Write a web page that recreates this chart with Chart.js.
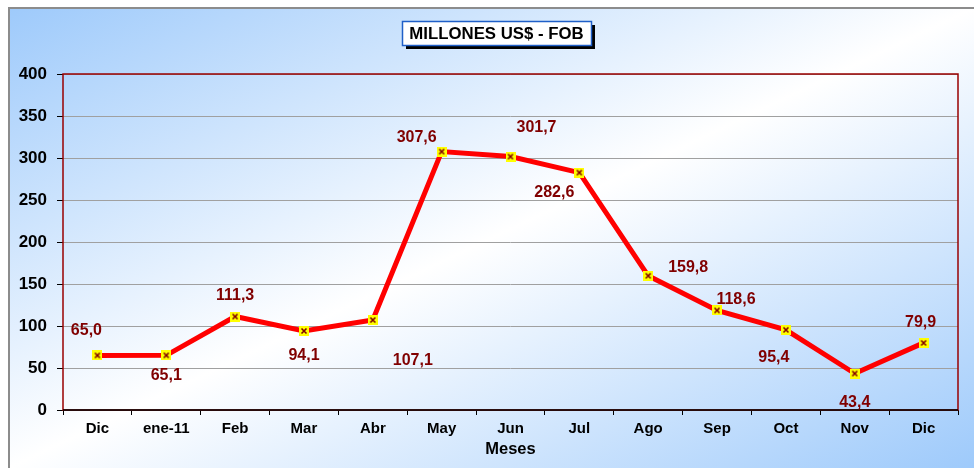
<!DOCTYPE html>
<html>
<head>
<meta charset="utf-8">
<script src="https://cdn.jsdelivr.net/npm/chart.js@4"></script>
<style>
  html, body { margin: 0; padding: 0; background: #fff; }
  #wrap { width: 974px; height: 468px; }
</style>
</head>
<body>
<div id="wrap"><canvas id="chart" width="974" height="468"></canvas></div>
<script>
const months = ['Dic', 'ene-11', 'Feb', 'Mar', 'Abr', 'May', 'Jun', 'Jul', 'Ago', 'Sep', 'Oct', 'Nov', 'Dic'];
const fobValues = [65.0, 65.1, 111.3, 94.1, 107.1, 307.6, 301.7, 282.6, 159.8, 118.6, 95.4, 43.4, 79.9];
const yTicks = [0, 50, 100, 150, 200, 250, 300, 350, 400];
const chartTitle = 'MILLONES US$ - FOB';
const xTitle = 'Meses';

// where each value label sits relative to its point (style only)
const labelOffsets = [[-11, -25], [0, 20], [0, -21], [0, 25], [40, 41], [-25, -14], [26, -29],
  [-25, 20], [40, -8], [19, -11], [-12, 28], [0, 29], [-3, -20]];

const FONT = '"Liberation Sans", Arial, sans-serif';

// yellow square marker with a dark red cross
const marker = document.createElement('canvas');
marker.width = 10; marker.height = 10;
const m = marker.getContext('2d');
m.fillStyle = '#ffff00';
m.fillRect(0, 0, 10, 10);
m.strokeStyle = '#800000';
m.lineWidth = 1.6;
m.beginPath();
m.moveTo(2.5, 2.5); m.lineTo(7.5, 7.5);
m.moveTo(7.5, 2.5); m.lineTo(2.5, 7.5);
m.stroke();

const frame = {
  id: 'frame',
  beforeDraw(chart) {
    const c = chart.ctx;
    const W = chart.width, H = chart.height;
    c.save();
    c.fillStyle = '#ffffff';
    c.fillRect(0, 0, W, H);
    c.translate(9, 8);
    c.scale(W - 9, H - 8);
    const g = c.createLinearGradient(0, 0, 1, 1);
    g.addColorStop(0, '#9ecafb');
    g.addColorStop(0.5, '#ffffff');
    g.addColorStop(1, '#9ecafb');
    c.fillStyle = g;
    c.fillRect(0, 0, 1, 1);
    c.restore();
    c.save();
    c.strokeStyle = '#8c8c8c';
    c.lineWidth = 2;
    c.beginPath();
    c.moveTo(9, H); c.lineTo(9, 8); c.lineTo(W, 8);
    c.stroke();
    c.restore();
  },
  beforeDatasetsDraw(chart) {
    const c = chart.ctx, a = chart.chartArea;
    c.save();
    c.strokeStyle = '#990000';
    c.lineWidth = 1.5;
    c.strokeRect(a.left, a.top, a.right - a.left, a.bottom - a.top);
    c.strokeStyle = '#000000';
    c.beginPath();
    c.moveTo(a.left, a.bottom); c.lineTo(a.right, a.bottom);
    c.stroke();
    c.restore();
  },
  afterDraw(chart) {
    const c = chart.ctx, a = chart.chartArea;
    c.save();
    // value labels
    c.font = 'bold 16px ' + FONT;
    c.fillStyle = '#800000';
    c.textAlign = 'center';
    c.textBaseline = 'middle';
    chart.getDatasetMeta(0).data.forEach((p, i) => {
      const o = labelOffsets[i];
      c.fillText(fobValues[i].toFixed(1).replace('.', ','), p.x + o[0], p.y + o[1]);
    });
    // title box
    const bx = 402, by = 21, bw = 189, bh = 24;
    c.fillStyle = '#000000';
    c.fillRect(bx + 4, by + 4, bw, bh);
    c.fillStyle = '#ffffff';
    c.fillRect(bx, by, bw, bh);
    c.strokeStyle = '#1f5fc8';
    c.lineWidth = 1.5;
    c.strokeRect(bx + 0.5, by + 0.5, bw, bh);
    c.fillStyle = '#000000';
    c.font = 'bold 16.8px ' + FONT;
    c.fillText(chartTitle, bx + bw / 2, by + bh / 2 + 1);
    // x axis title
    c.font = 'bold 16.5px ' + FONT;
    c.fillText(xTitle, (a.left + a.right) / 2, 449);
    c.restore();
  }
};

new Chart(document.getElementById('chart'), {
  type: 'line',
  data: {
    labels: months,
    datasets: [{
      data: fobValues,
      borderColor: '#ff0000',
      borderWidth: 5,
      pointStyle: marker,
      pointRadius: 5,
      tension: 0,
      fill: false
    }]
  },
  options: {
    responsive: false,
    animation: false,
    layout: { padding: { left: 0, top: 74, right: 16, bottom: 0 } },
    plugins: { legend: { display: false }, tooltip: { enabled: false } },
    scales: {
      x: {
        offset: true,
        grid: { offset: true, drawOnChartArea: false, drawTicks: true, tickLength: 5, color: '#000000' },
        border: { display: false },
        ticks: { color: '#000', padding: 5, font: { family: FONT, size: 15, weight: 'bold' }, maxRotation: 0, autoSkip: false },
        afterFit(s) { s.height = 58; }
      },
      y: {
        min: 0,
        max: 400,
        afterBuildTicks(s) { s.ticks = yTicks.map(v => ({ value: v })); },
        grid: { color: '#a0a0a0', lineWidth: 1, tickLength: 6, tickColor: '#000' },
        border: { display: false },
        ticks: { color: '#000', padding: 10, font: { family: FONT, size: 17, weight: 'bold' } },
        afterFit(s) { s.width = 63; }
      }
    }
  },
  plugins: [frame]
});
</script>
</body>
</html>
